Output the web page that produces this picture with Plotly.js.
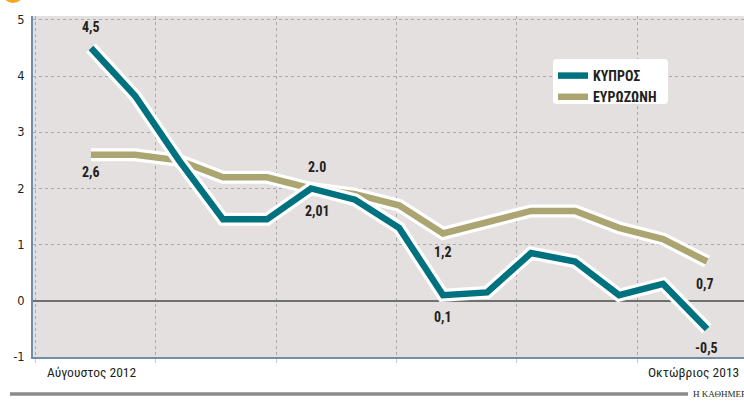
<!DOCTYPE html>
<html>
<head>
<meta charset="utf-8">
<script src="https://cdn.plot.ly/plotly-3.0.1.min.js"></script>
<style>html,body{margin:0;padding:0;background:#fff;}#chart{width:744px;height:406px;}</style>
</head>
<body>
<div id="chart"></div>
<script>
// Data (annual inflation, %)
const months = ["Αύγ 2012","Σεπ 2012","Οκτ 2012","Νοέ 2012","Δεκ 2012","Ιαν 2013","Φεβ 2013","Μάρ 2013","Απρ 2013","Μάι 2013","Ιούν 2013","Ιούλ 2013","Αύγ 2013","Σεπ 2013","Οκτ 2013"];
const cyprus   = [4.5, 3.65, 2.5, 1.45, 1.45, 2.0, 1.8, 1.3, 0.1, 0.15, 0.85, 0.7, 0.1, 0.3, -0.5];
const eurozone = [2.6, 2.6, 2.5, 2.2, 2.2, 2.0, 1.9, 1.7, 1.2, 1.4, 1.6, 1.6, 1.3, 1.1, 0.7];
const seriesNames = ["ΚΥΠΡΟΣ", "ΕΥΡΩΖΩΝΗ"];
const yTicks = [-1, 0, 1, 2, 3, 4, 5];
const yTickText = ["-1", "0", "1", "2", "3", "4", "5"];
const firstLabel = "Αύγουστος 2012";
const lastLabel = "Οκτώβριος 2013";
// value labels: [series index, point index, text, xshift, yshift]
const valueLabels = [
  [0, 0, "4,5", 0, 21],
  [1, 0, "2,6", 0, -17],
  [1, 5, "2.0", 6, 21],
  [0, 5, "2,01", 6, -23],
  [1, 8, "1,2", 0, -19],
  [0, 8, "0,1", 0, -22],
  [1, 14, "0,7", -2, -22],
  [0, 14, "-0,5", -1, -19]
];

const idx = months.map((m, i) => i);
const teal = "#00717f";
const olive = "#aba571";
const fontCond = "'Roboto Condensed','DejaVu Sans Condensed','Liberation Sans Narrow',Roboto,'DejaVu Sans',sans-serif";
const dark = "#231f20";

const seriesData = [cyprus, eurozone];
const colors = [teal, olive];
const traces = [];
[1, 0].forEach(s => {
  traces.push({x: idx, y: seriesData[s], type: "scatter", mode: "lines",
    line: {color: "#ffffff", width: 13}, showlegend: false, hoverinfo: "skip"});
  traces.push({x: idx, y: seriesData[s], type: "scatter", mode: "lines",
    name: "<b>" + seriesNames[s] + "</b>", line: {color: colors[s], width: 6.5}, showlegend: true,
    legendrank: s + 1});
});

const annotations = valueLabels.map(v => ({
  x: idx[v[1]], y: seriesData[v[0]][v[1]], xref: "x", yref: "y",
  text: "<b>" + v[2] + "</b>", showarrow: false, xshift: v[3], yshift: v[4],
  font: {family: fontCond, size: 14, color: dark}
}));
annotations.push({x: (45 - 33) / 711, y: (357 - 372) / 341, xref: "paper", yref: "paper",
  xanchor: "left", yanchor: "middle", text: firstLabel, showarrow: false,
  font: {family: fontCond, size: 13.5, color: dark}});
annotations.push({x: (741 - 33) / 711, y: (357 - 372) / 341, xref: "paper", yref: "paper",
  xanchor: "right", yanchor: "middle", text: lastLabel, showarrow: false,
  font: {family: fontCond, size: 13.5, color: dark}});
annotations.push({x: (691 - 33) / 711, y: (357 - 394) / 341, xref: "paper", yref: "paper",
  xanchor: "left", yanchor: "middle", text: "Η ΚΑΘΗΜΕΡΙΝΗ", showarrow: false,
  font: {family: "'Liberation Serif','DejaVu Serif',serif", size: 9, color: dark}});
annotations.push({x: (88 - 33) / 711, y: (357 - 3) / 341, xref: "paper", yref: "paper",
  xanchor: "left", yanchor: "bottom",
  text: "<b><span style='color:#c4262e'>Πληθωρισμός</span> (%, ετήσια μεταβολή)</b>", showarrow: false,
  font: {family: fontCond, size: 18, color: dark}});

const lx0 = 553, lx1 = 668, ly0 = 59, ly1 = 104, r = 4;
const px = v => (v - 33) / 711;
const py = v => (357 - v) / 341;
const legendPath = "M" + px(lx0 + r) + "," + py(ly0) + " L" + px(lx1 - r) + "," + py(ly0) +
  " Q" + px(lx1) + "," + py(ly0) + " " + px(lx1) + "," + py(ly0 + r) +
  " L" + px(lx1) + "," + py(ly1 - r) + " Q" + px(lx1) + "," + py(ly1) + " " + px(lx1 - r) + "," + py(ly1) +
  " L" + px(lx0 + r) + "," + py(ly1) + " Q" + px(lx0) + "," + py(ly1) + " " + px(lx0) + "," + py(ly1 - r) +
  " L" + px(lx0) + "," + py(ly0 + r) + " Q" + px(lx0) + "," + py(ly0) + " " + px(lx0 + r) + "," + py(ly0) + " Z";

const shapes = [
  {type: "line", xref: "paper", yref: "paper", x0: px(10), x1: px(688),
   y0: py(394), y1: py(394), line: {color: "#8a8a8a", width: 3.5}},
  {type: "circle", xref: "paper", yref: "paper", x0: px(2), x1: px(24),
   y0: py(3), y1: py(-19), fillcolor: "#f5a623", line: {width: 0}},
  {type: "path", xref: "paper", yref: "paper", path: legendPath, fillcolor: "#ffffff",
   line: {width: 0}, layer: "above"}
];

const layout = {
  width: 744, height: 406,
  margin: {l: 33, r: 0, t: 16, b: 49, pad: 0},
  paper_bgcolor: "#ffffff", plot_bgcolor: "#e3e0df",
  showlegend: true,
  legend: {x: px(553), y: py(60), xanchor: "left", yanchor: "top",
    bgcolor: "rgba(0,0,0,0)", borderwidth: 0, traceorder: "normal",
    font: {family: fontCond, size: 14, color: dark},
    itemwidth: 30, tracegroupgap: 2},
  xaxis: {range: [-1.318, 14.84], tick0: 1.477, dtick: 2.733, tickmode: "linear",
    showticklabels: false, showgrid: true, gridcolor: "#a9a9a9", griddash: "dot", gridwidth: 1,
    ticks: "outside", ticklen: 4, tickcolor: "#c8c8c8", tickwidth: 1,
    showline: true, linecolor: "#6f8eab", linewidth: 2, zeroline: false, fixedrange: true},
  xaxis2: {range: [-1.318, 14.84], tick0: 1.477, dtick: 2.733, tickmode: "linear",
    overlaying: "x", side: "top", showticklabels: false, showgrid: false,
    ticks: "inside", ticklen: 3, tickcolor: "#b0b0b0", tickwidth: 1, showline: false, zeroline: false},
  yaxis: {range: [-1, 5.07], tickvals: yTicks, ticktext: yTickText,
    showgrid: true, gridcolor: "#a9a9a9", griddash: "dot", gridwidth: 1,
    zeroline: true, zerolinecolor: "#707070", zerolinewidth: 1.5,
    showline: true, linecolor: "#6f8eab", linewidth: 2,
    ticks: "", ticklabelstandoff: 4,
    tickfont: {family: "'DejaVu Sans',sans-serif", size: 11.5, color: dark}, fixedrange: true},
  annotations: annotations,
  shapes: shapes
};

Plotly.newPlot("chart", traces, layout, {displayModeBar: false, staticPlot: true});
</script>
</body>
</html>
